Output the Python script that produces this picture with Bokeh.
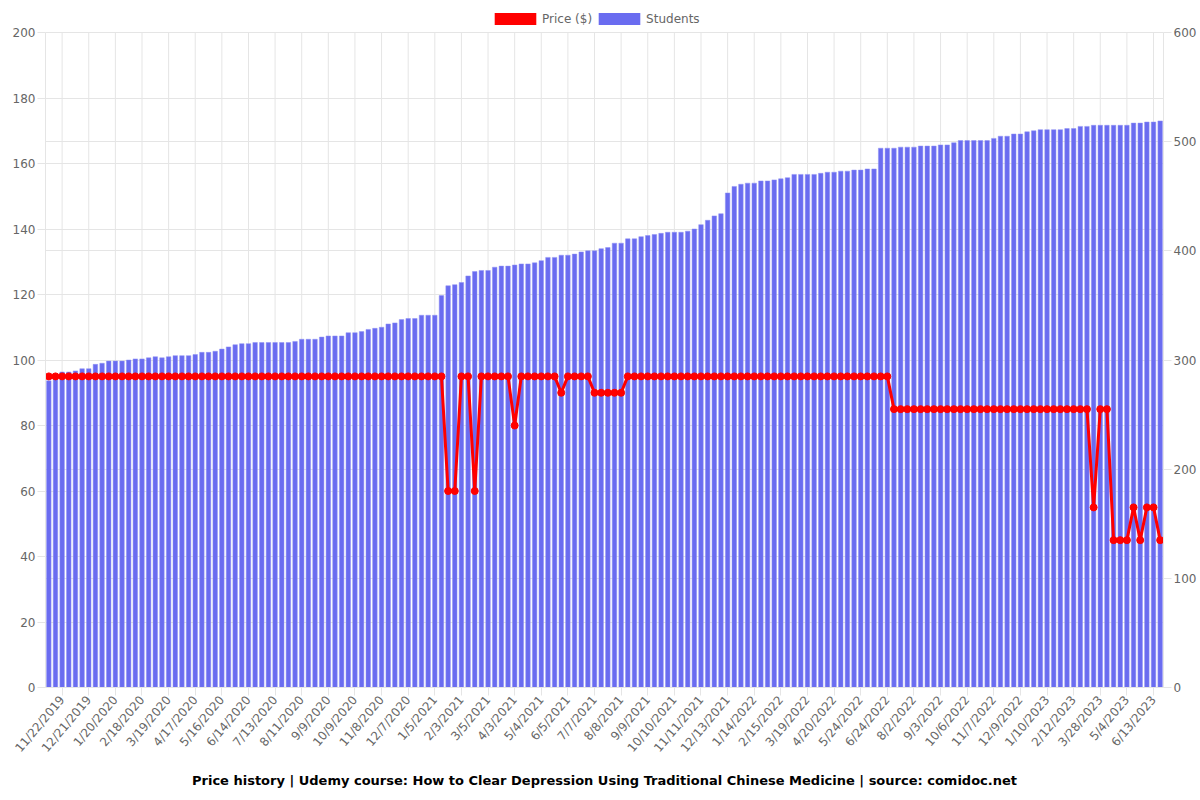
from bokeh.plotting import figure
from bokeh.models import (Range1d, LinearAxis, FixedTicker, Legend, LegendItem,
                          Title, ColumnDataSource, Grid)
from bokeh.embed import file_html
from bokeh.resources import INLINE
from math import pi

tick_labels = ["11/22/2019", "12/21/2019", "1/20/2020", "2/18/2020", "3/19/2020",
               "4/17/2020", "5/16/2020", "6/14/2020", "7/13/2020", "8/11/2020",
               "9/9/2020", "10/9/2020", "11/8/2020", "12/7/2020", "1/5/2021",
               "2/3/2021", "3/5/2021", "4/3/2021", "5/4/2021", "6/5/2021",
               "7/7/2021", "8/8/2021", "9/9/2021", "10/10/2021", "11/11/2021",
               "12/13/2021", "1/14/2022", "2/15/2022", "3/19/2022", "4/20/2022",
               "5/24/2022", "6/24/2022", "8/2/2022", "9/3/2022", "10/6/2022",
               "11/7/2022", "12/9/2022", "1/10/2023", "2/12/2023", "3/28/2023",
               "5/4/2023", "6/13/2023"]

students = [
    281, 284, 289, 289, 290, 292, 292, 296, 297, 299, 299, 299, 300, 301, 301, 302, 303, 302, 303, 304,
    304, 304, 305, 307, 307, 308, 310, 312, 314, 315, 315, 316, 316, 316, 316, 316, 316, 317, 319, 319,
    319, 321, 322, 322, 322, 325, 325, 326, 328, 329, 330, 333, 334, 337, 338, 338, 341, 341, 341, 359,
    368, 369, 371, 377, 381, 382, 382, 385, 386, 386, 387, 388, 388, 389, 391, 394, 394, 396, 396, 397,
    399, 400, 400, 402, 403, 407, 407, 411, 411, 413, 414, 415, 416, 417, 417, 417, 418, 420, 424, 428,
    432, 434, 453, 459, 461, 462, 462, 464, 464, 465, 466, 467, 470, 470, 470, 470, 471, 472, 472, 473,
    473, 474, 474, 475, 475, 494, 494, 494, 495, 495, 495, 496, 496, 496, 497, 497, 499, 501, 501, 501,
    501, 501, 503, 505, 505, 507, 507, 509, 510, 511, 511, 511, 511, 512, 512, 514, 514, 515, 515, 515,
    515, 515, 515, 517, 517, 518, 518, 519,
]

prices = [
    95, 95, 95, 95, 95, 95, 95, 95, 95, 95, 95, 95, 95, 95, 95, 95, 95, 95, 95, 95,
    95, 95, 95, 95, 95, 95, 95, 95, 95, 95, 95, 95, 95, 95, 95, 95, 95, 95, 95, 95,
    95, 95, 95, 95, 95, 95, 95, 95, 95, 95, 95, 95, 95, 95, 95, 95, 95, 95, 95, 95,
    60, 60, 95, 95, 60, 95, 95, 95, 95, 95, 80, 95, 95, 95, 95, 95, 95, 90, 95, 95,
    95, 95, 90, 90, 90, 90, 90, 95, 95, 95, 95, 95, 95, 95, 95, 95, 95, 95, 95, 95,
    95, 95, 95, 95, 95, 95, 95, 95, 95, 95, 95, 95, 95, 95, 95, 95, 95, 95, 95, 95,
    95, 95, 95, 95, 95, 95, 95, 85, 85, 85, 85, 85, 85, 85, 85, 85, 85, 85, 85, 85,
    85, 85, 85, 85, 85, 85, 85, 85, 85, 85, 85, 85, 85, 85, 85, 85, 85, 55, 85, 85,
    45, 45, 45, 55, 45, 55, 55, 45,
]

price_ticks = [0, 20, 40, 60, 80, 100, 120, 140, 160, 180, 200]
student_ticks = [0, 100, 200, 300, 400, 500, 600]

n = len(students)
idx = list(range(n))
tick_pos = [2 + 4 * i for i in range(len(tick_labels))]

src = ColumnDataSource(dict(x=idx, students=students, prices=prices))

FONT = "DejaVu Sans"
GRID = "#e5e5e5"
TXT = "#666666"
BLUE = "#6a6cf0"
RED = "#ff0000"

# plot frame: top of the value axes sits 32 px below the frame top, leaving room for the legend
FRAME_H = 687
AXIS_H = 655
PRICE_MAX = price_ticks[-1]
STUD_MAX = student_ticks[-1]

p = figure(frame_width=1118, frame_height=FRAME_H, output_backend="svg", toolbar_location=None,
           x_range=Range1d(-0.5, n - 0.5),
           y_range=Range1d(0, PRICE_MAX * FRAME_H / AXIS_H),
           min_border_left=45, min_border_right=37, min_border_top=0,
           min_border_bottom=113, background_fill_color="white",
           border_fill_color="white", outline_line_color=None)
p.extra_y_ranges = {"students": Range1d(0, STUD_MAX * FRAME_H / AXIS_H)}

xaxis = p.xaxis[0]
xaxis.ticker = FixedTicker(ticks=tick_pos)
xaxis.major_label_overrides = {t: l for t, l in zip(tick_pos, tick_labels)}
xaxis.major_label_orientation = 50 * pi / 180
xaxis.minor_tick_line_color = None

yaxis = p.yaxis[0]
yaxis.ticker = FixedTicker(ticks=price_ticks)
yaxis.bounds = (0, PRICE_MAX)
yaxis.minor_tick_line_color = None

raxis = LinearAxis(y_range_name="students", ticker=FixedTicker(ticks=student_ticks),
                   bounds=(0, STUD_MAX))
raxis.minor_tick_line_color = None
p.add_layout(raxis, "right")

for ax in (xaxis, yaxis, raxis):
    ax.axis_line_color = GRID
    ax.major_tick_line_color = GRID
    ax.major_tick_in = 0
    ax.major_tick_out = 8
    ax.major_label_text_font = FONT
    ax.major_label_text_font_size = "12px"
    ax.major_label_text_color = TXT
    ax.major_label_standoff = 2

# vertical grid lines limited to the value area
p.xgrid.visible = False
p.segment(x0=tick_pos, y0=[0] * len(tick_pos), x1=tick_pos,
          y1=[PRICE_MAX] * len(tick_pos), line_color=GRID, line_width=1,
          level="underlay")
p.ygrid.ticker = yaxis.ticker
p.ygrid.grid_line_color = GRID
g2 = Grid(dimension=1, ticker=raxis.ticker, y_range_name="students",
          grid_line_color=GRID)
p.add_layout(g2)

bars = p.vbar(x="x", top="students", width=0.68, source=src,
              y_range_name="students", fill_color=BLUE,
              line_color="#8f91f4", line_width=0.5)
line = p.line(x="x", y="prices", source=src, line_color=RED, line_width=3)
pts = p.scatter(x="x", y="prices", source=src, size=7, fill_color=RED,
                line_color=RED)

# zero-width bar renderers only used for legend swatches
key_red = p.vbar(x="x", top="prices", width=0, source=src, fill_color=RED,
                 line_color=RED, line_alpha=0, fill_alpha=1)
key_blue = p.vbar(x="x", top="students", width=0, source=src, y_range_name="students",
                  fill_color=BLUE, line_color=BLUE, line_alpha=0)

legend = Legend(items=[LegendItem(label="Price ($)", renderers=[key_red]),
                       LegendItem(label="Students", renderers=[key_blue])],
                orientation="horizontal", location=(444, 661),
                glyph_width=52, glyph_height=15, label_height=12,
                label_text_font=FONT, label_text_font_size="12px",
                label_text_color=TXT, label_text_baseline="middle",
                border_line_color=None, background_fill_alpha=0,
                spacing=1, padding=10, margin=0, label_standoff=1)
p.add_layout(legend, "center")

title = Title(text="Price history | Udemy course: How to Clear Depression Using Traditional Chinese Medicine | source: comidoc.net",
              align="center", text_font=FONT, text_font_size="13px",
              text_font_style="bold", text_color="#000000", standoff=16)
p.add_layout(title, "below")

open("out.html", "w").write(file_html(p, INLINE))
